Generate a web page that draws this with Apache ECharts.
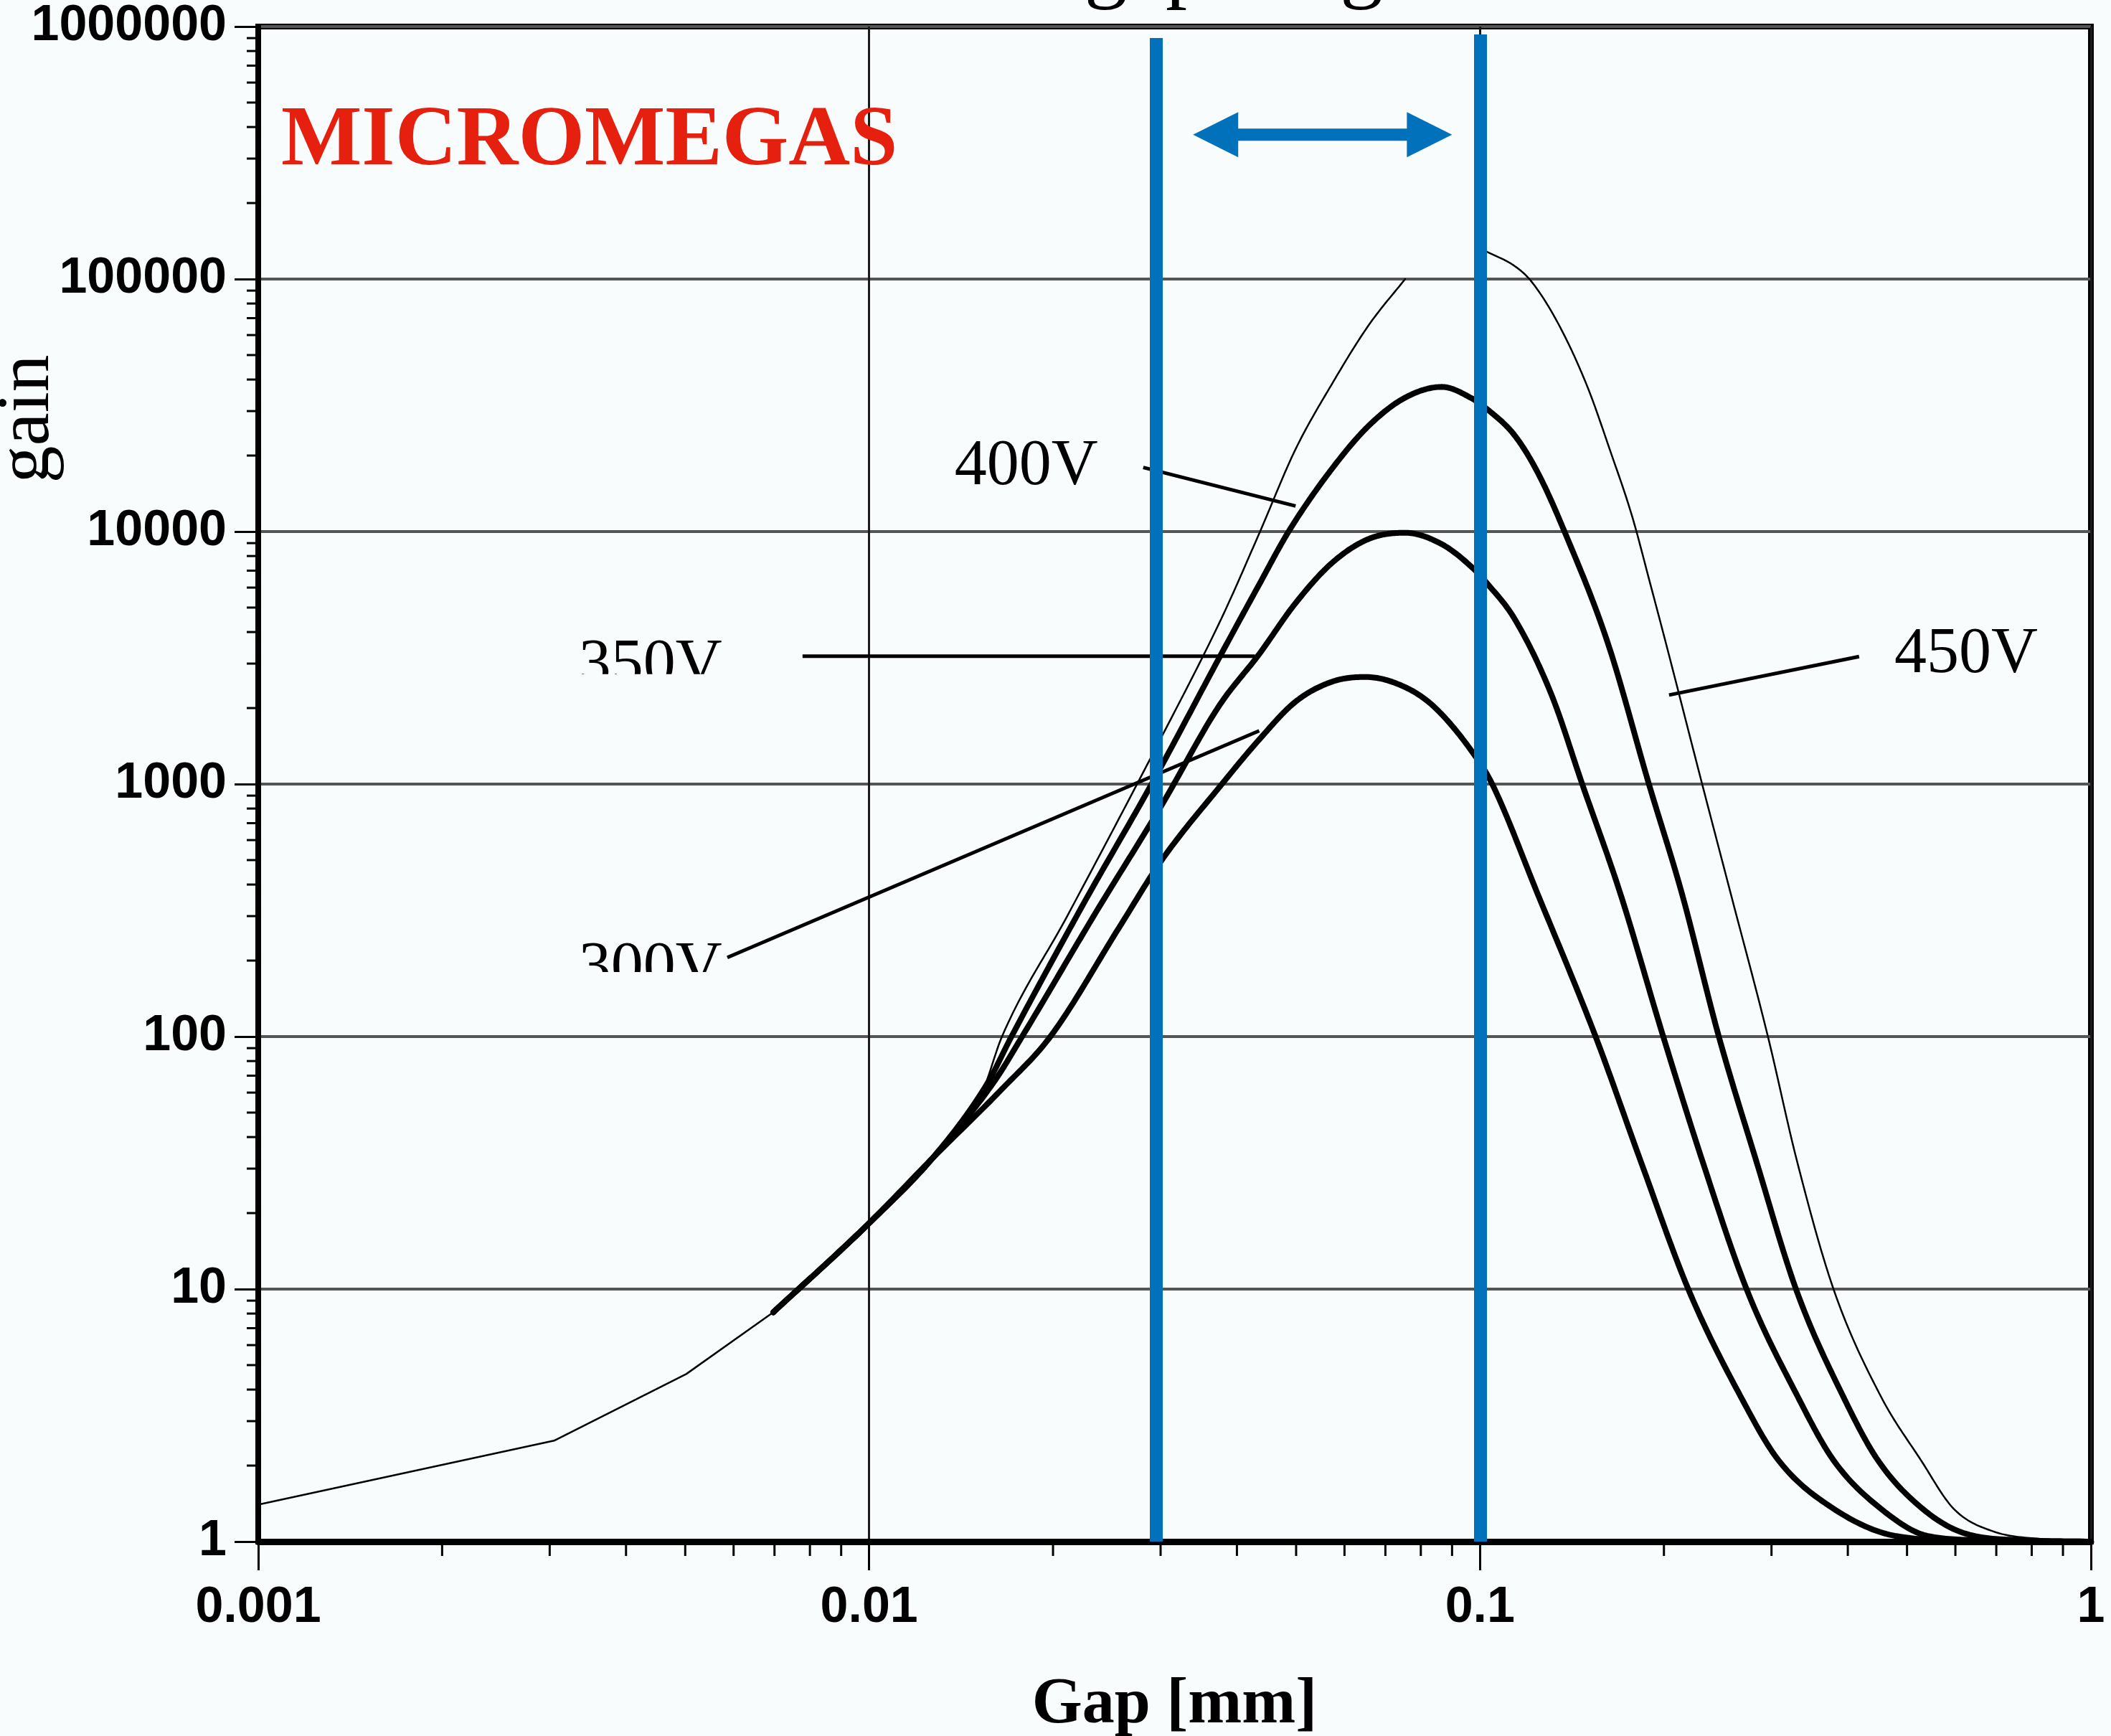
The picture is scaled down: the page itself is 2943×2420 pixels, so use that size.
<!DOCTYPE html>
<html>
<head>
<meta charset="utf-8">
<script src="https://cdn.jsdelivr.net/npm/echarts@6/dist/echarts.min.js"></script>
<style>
  html, body { margin: 0; padding: 0; background: #F8FCFD; }
  #chart { width: 2943px; height: 2420px; }
</style>
</head>
<body>
<div id="chart"></div>
<script>
// Tick labels
const xTickLabels = ['0.001', '0.01', '0.1', '1'];
const yTickLabels = ['1', '10', '100', '1000', '10000', '100000', '1000000'];

// Shared low-gap segment (piecewise straight), gap in mm
const gapBase = [0.001, 0.00305, 0.00502, 0.00697];
const gainBase = [1.4, 2.51, 4.61, 8.1];

// Gain vs gap curves (null = part of the 450V trace that is not shown)
const gap450 = [0.00697, 0.00992, 0.0127, 0.0153, 0.0165, 0.0211, 0.0296, 0.0378, 0.0435, 0.0499, 0.0573, 0.0658, 0.0754, 0.088, 0.1025, 0.114, 0.1213, 0.1346, 0.150, 0.163, 0.1774, 0.190, 0.201, 0.231, 0.257, 0.296, 0.330, 0.379, 0.453, 0.527, 0.596, 0.69, 0.85, 1.0];
const gain450 = [8.1, 17.9, 33, 60, 100, 300, 1420, 4570, 9820, 21200, 38600, 65900, 100000, null, 128500, 112500, 98000, 65900, 37300, 21200, 11500, 6200, 3700, 1000, 372, 100, 32.4, 10, 3.76, 2.10, 1.35, 1.1, 1.02, 1.0];

const gap400 = [0.00697, 0.00992, 0.0127, 0.0156, 0.0171, 0.0225, 0.029, 0.0378, 0.0435, 0.0486, 0.0573, 0.0658, 0.0754, 0.0866, 0.0967, 0.1026, 0.114, 0.1245, 0.1375, 0.162, 0.189, 0.2138, 0.246, 0.283, 0.330, 0.393, 0.448, 0.53, 0.62, 0.8, 1.0];
const gain400 = [8.1, 17.9, 33, 65, 100, 340, 1000, 3310, 6170, 10000, 17800, 26300, 33900, 37400, 33800, 30600, 24000, 17000, 10000, 3600, 1000, 372, 100, 32.4, 9.8, 3.76, 2.10, 1.35, 1.08, 1.01, 1.0];

const gap350 = [0.00697, 0.00992, 0.0127, 0.016, 0.0178, 0.0235, 0.03015, 0.0374, 0.0435, 0.0499, 0.0573, 0.0658, 0.0754, 0.0866, 0.0967, 0.1035, 0.114, 0.131, 0.147, 0.1695, 0.1995, 0.231, 0.274, 0.331, 0.379, 0.453, 0.543, 0.7, 1.0];
const gain350 = [8.1, 17.9, 33, 66, 100, 310, 828, 2040, 3270, 5210, 7530, 9360, 9890, 8910, 7270, 6100, 4500, 2250, 1000, 372, 100, 32.4, 9.8, 3.76, 2.10, 1.35, 1.05, 1.01, 1.0];

const gap300 = [0.00697, 0.00992, 0.0127, 0.0165, 0.0198, 0.0257, 0.03015, 0.0378, 0.0435, 0.0499, 0.0573, 0.0649, 0.0754, 0.0842, 0.098, 0.1047, 0.124, 0.1546, 0.183, 0.220, 0.267, 0.308, 0.379, 0.482, 0.7, 1.0];
const gain300 = [8.1, 17.9, 33, 62, 100, 272, 501, 1000, 1500, 2120, 2545, 2655, 2420, 2018, 1300, 1000, 372, 100, 32.4, 9.8, 3.76, 2.10, 1.35, 1.05, 1.0, 1.0];

// Curve annotations: text anchor (left edge, baseline) and leader lines, in data units
const labelText = ['400V', '350V', '300V', '450V'];
const labelGap = [0.0138, 0.003347, 0.003347, 0.4767];
const labelGain = [15330, 2487, 157.2, 2761];
const labelCutGain = [null, 2725, 180.3, null];
const leaderGap = [[0.0281, 0.0499], [0.00778, 0.0428], [0.00586, 0.0435], [0.4174, 0.2039]];
const leaderGain = [[17950, 12630], [3210, 3210], [205.6, 1625], [3200, 2253]];

// Highlighted gap range (blue bounds and double arrow)
const bandGap = [0.0295, 0.1];
const bandTopGain = [9.0e5, 9.3e5];
const arrowGap = [0.0339, 0.0900];
const arrowGain = 373000;

const X_MIN = 0.001, X_MAX = 1, Y_MIN = 1, Y_MAX = 1e6;
const BG = '#F8FCFD';
const BLUE = '#0071BA';
const SERIF = '"Liberation Serif", "Times New Roman", serif';
const SANS = '"Liberation Sans", Arial, sans-serif';
const MID = 0.3375; // alphabetic baseline sits this many em below the text middle

function pairs(xs, ys) { return xs.map((x, i) => [x, ys[i]]); }
function minorValues(e0, e1) {
  const out = [];
  for (let e = e0; e < e1; e++) for (let m = 2; m <= 9; m++) out.push(+(m * Math.pow(10, e)).toPrecision(6));
  return out;
}
const xMinor = minorValues(-3, 0);
const yMinor = minorValues(0, 6);

// Monotone cubic (Fritsch-Carlson) path through pixel points, x increasing
function monotonePath(pts, steps) {
  const n = pts.length;
  if (n < 3) return pts;
  const d = [], m = new Array(n);
  for (let k = 0; k < n - 1; k++) d[k] = (pts[k + 1][1] - pts[k][1]) / (pts[k + 1][0] - pts[k][0]);
  m[0] = d[0]; m[n - 1] = d[n - 2];
  for (let k = 1; k < n - 1; k++) m[k] = d[k - 1] * d[k] <= 0 ? 0 : (d[k - 1] + d[k]) / 2;
  for (let k = 0; k < n - 1; k++) {
    if (d[k] === 0) { m[k] = 0; m[k + 1] = 0; continue; }
    const a = m[k] / d[k], b = m[k + 1] / d[k], s = a * a + b * b;
    if (s > 9) { const t = 3 / Math.sqrt(s); m[k] = t * a * d[k]; m[k + 1] = t * b * d[k]; }
  }
  const out = [];
  for (let k = 0; k < n - 1; k++) {
    const x0 = pts[k][0], y0 = pts[k][1], x1 = pts[k + 1][0], y1 = pts[k + 1][1], h = x1 - x0;
    for (let j = 0; j < steps; j++) {
      const t = j / steps, t2 = t * t, t3 = t2 * t;
      const h00 = 2 * t3 - 3 * t2 + 1, h10 = t3 - 2 * t2 + t, h01 = -2 * t3 + 3 * t2, h11 = t3 - t2;
      out.push([x0 + t * h, h00 * y0 + h10 * h * m[k] + h01 * y1 + h11 * h * m[k + 1]]);
    }
  }
  out.push(pts[n - 1]);
  return out;
}

const chart = echarts.init(document.getElementById('chart'));

// A gain curve: the series holds the read points; the stroke is a smooth monotone path through them
function curveSeries(name, xs, ys, width) {
  const pts = pairs(xs, ys).filter(p => p[1] != null);
  return {
    type: 'custom', name: name, silent: true, z: 3, clip: true,
    data: pts, encode: { x: 0, y: 1 },
    renderItem: function (params, api) {
      if (params.dataIndex !== 0) return null;
      const runs = []; let cur = [];
      xs.forEach((x, i) => {
        if (ys[i] == null) { if (cur.length) runs.push(cur); cur = []; }
        else cur.push(api.coord([x, ys[i]]));
      });
      if (cur.length) runs.push(cur);
      return {
        type: 'group',
        children: runs.map(r => ({
          type: 'polyline',
          shape: { points: monotonePath(r, 24) },
          style: { stroke: '#000', lineWidth: width, fill: null, lineJoin: 'round', lineCap: 'round' }
        }))
      };
    }
  };
}

const series = [
  {
    type: 'line', name: 'low gap', data: pairs(gapBase, gainBase),
    showSymbol: false, symbol: 'none', smooth: false, z: 3, silent: true,
    lineStyle: { color: '#000', width: 2.5 }
  },
  curveSeries('450V', gap450, gain450, 2.5),
  curveSeries('400V', gap400, gain400, 8),
  curveSeries('350V', gap350, gain350, 8),
  curveSeries('300V', gap300, gain300, 8)
];

// leader lines from labels to curves
leaderGap.forEach((g, i) => {
  series.push({
    type: 'line', name: 'leader-' + labelText[i], data: pairs(g, leaderGain[i]),
    showSymbol: false, symbol: 'none', z: 3, silent: true,
    lineStyle: { color: '#000', width: 5 }
  });
});

// blue bounds of the gap range
series.push({
  type: 'line', name: 'bounds', data: [], z: 6, silent: true,
  markLine: {
    silent: true, symbol: ['none', 'none'], label: { show: false }, animation: false,
    lineStyle: { color: BLUE, width: 18, type: 'solid' },
    data: bandGap.map((g, i) => [{ coord: [g, Y_MIN] }, { coord: [g, bandTopGain[i]] }])
  }
});

// double-headed arrow between the bounds
series.push({
  type: 'custom', name: 'range-arrow', silent: true, z: 7, clip: false,
  data: [[arrowGap[0], arrowGain, arrowGap[1], arrowGain]],
  encode: { x: [0, 2], y: [1, 3] },
  renderItem: function (params, api) {
    const a = api.coord([api.value(0), api.value(1)]);
    const b = api.coord([api.value(2), api.value(3)]);
    const y = a[1], hl = 63, hh = 31.5, sh = 8.5;
    return {
      type: 'polygon',
      shape: { points: [
        [a[0], y], [a[0] + hl, y - hh], [a[0] + hl, y - sh], [b[0] - hl, y - sh], [b[0] - hl, y - hh],
        [b[0], y], [b[0] - hl, y + hh], [b[0] - hl, y + sh], [a[0] + hl, y + sh], [a[0] + hl, y + hh]
      ] },
      style: { fill: BLUE }
    };
  }
});

// minor log ticks on both axes
series.push({
  type: 'custom', name: 'y-minor', silent: true, z: 4, clip: false,
  data: yMinor.map(v => [X_MIN, v]), encode: { x: 0, y: 1 },
  renderItem: function (params, api) {
    const p = api.coord([api.value(0), api.value(1)]);
    return { type: 'line', shape: { x1: p[0] - 16, y1: p[1], x2: p[0], y2: p[1] }, style: { stroke: '#000', lineWidth: 3 } };
  }
});
series.push({
  type: 'custom', name: 'x-minor', silent: true, z: 4, clip: false,
  data: xMinor.map(v => [v, Y_MIN]), encode: { x: 0, y: 1 },
  renderItem: function (params, api) {
    const p = api.coord([api.value(0), api.value(1)]);
    return { type: 'line', shape: { x1: p[0], y1: p[1], x2: p[0], y2: p[1] + 20 }, style: { stroke: '#000', lineWidth: 3 } };
  }
});

chart.setOption({
  animation: false,
  backgroundColor: BG,
  grid: {
    left: 360, top: 37, width: 2555, height: 2112, containLabel: false, outerBoundsMode: 'none',
    show: true, borderColor: '#000', borderWidth: 8, backgroundColor: 'transparent'
  },
  xAxis: {
    type: 'log', logBase: 10, min: X_MIN, max: X_MAX,
    name: 'Gap [mm]', nameLocation: 'middle', nameGap: 184, nameMoveOverlap: false,
    nameTextStyle: { fontFamily: SERIF, fontWeight: 'bold', fontSize: 90, color: '#000' },
    axisLine: { show: true, onZero: false, lineStyle: { color: '#000', width: 9 } },
    axisTick: { show: true, inside: false, length: 40, lineStyle: { color: '#000', width: 3 } },
    axisLabel: { margin: 58, fontFamily: SANS, fontWeight: 'bold', fontSize: 70, color: '#000',
      formatter: (v, i) => xTickLabels[i] },
    splitLine: { show: true, lineStyle: { color: '#1a1a1a', width: 3 } },
    minorTick: { show: false }
  },
  yAxis: {
    type: 'log', logBase: 10, min: Y_MIN, max: Y_MAX,
    axisLine: { show: true, onZero: false, lineStyle: { color: '#000', width: 8 } },
    axisTick: { show: true, inside: false, length: 33, lineStyle: { color: '#000', width: 3 } },
    axisLabel: { margin: 44, fontFamily: SANS, fontWeight: 'bold', fontSize: 70, color: '#000',
      formatter: (v, i) => yTickLabels[i] },
    splitLine: { show: true, lineStyle: { color: '#555', width: 4 } },
    minorTick: { show: false }
  },
  series: series
});

// Text annotations positioned from data coordinates
const toPx = (x, y) => chart.convertToPixel({ gridIndex: 0 }, [x, y]);
const LABEL_FS = 90;
const graphics = [];
labelText.forEach((t, i) => {
  const p = toPx(labelGap[i], labelGain[i]);
  graphics.push({
    type: 'text', x: p[0], y: p[1] - MID * LABEL_FS + 6, z: 90, silent: true,
    style: { text: t, font: LABEL_FS + 'px ' + SERIF, fill: '#000', textAlign: 'left', textVerticalAlign: 'middle' }
  });
  if (labelCutGain[i] != null) {
    const c = toPx(labelGap[i], labelCutGain[i]);
    graphics.push({
      type: 'rect', z: 95, silent: true,
      shape: { x: c[0] - 10, y: c[1], width: 210, height: 50 },
      style: { fill: BG }
    });
  }
});
graphics.push({
  type: 'text', x: 392, y: 238 - MID * 119, z: 90, silent: true,
  style: { text: 'MICROMEGAS', font: 'bold 119px ' + SERIF, fill: '#E5200F', textAlign: 'left', textVerticalAlign: 'middle' }
});
graphics.push({
  type: 'text', x: 1242, y: -9 - MID * 120 + 6, z: 90, silent: true,
  style: { text: 'Ideal gap range', font: '120px ' + SERIF, fill: '#000', textAlign: 'left', textVerticalAlign: 'middle' }
});
graphics.push({
  type: 'text', x: 40, y: 584, rotation: Math.PI / 2, z: 90, silent: true,
  style: { text: 'gain', font: '104px ' + SERIF, fill: '#000', textAlign: 'center', textVerticalAlign: 'middle' }
});
chart.setOption({ graphic: graphics });
</script>
</body>
</html>
